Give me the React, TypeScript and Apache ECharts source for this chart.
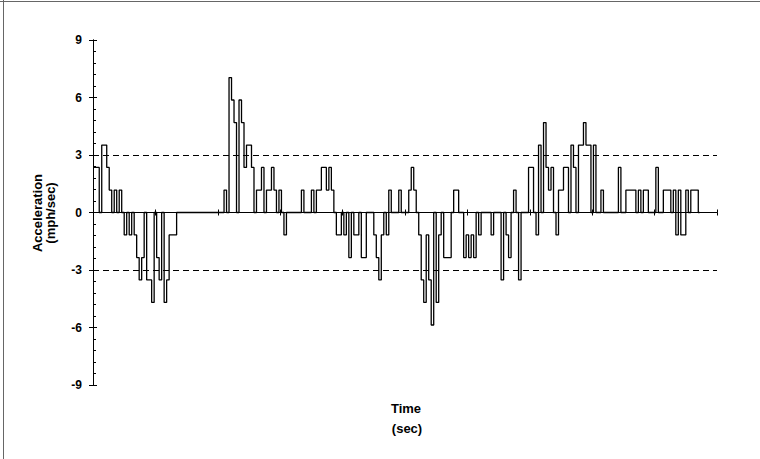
import React, { useEffect, useRef } from "react";
import * as echarts from "echarts";

// Sampling interval of the acceleration trace (seconds)
const DT = 0.4;

// Acceleration (mph/sec), consecutive samples, split into segments
const accelSeg1 = [2.35, 2.35, 2.35, 0, 3.52, 3.52, 2.35, 1.17, 0, 1.17, 0, 1.17, 0, -1.17, 0, -1.17, 0,
  -1.17, -2.35, -3.52, -2.35, 0, -3.52, -3.52, -4.69, 0, -2.35, -3.52, 0, -4.69, -3.52, -1.17, -1.17, -1.17];
const accelSeg2 = [0, 0, 0, 0, 0, 0, 0, 0, 0, 0, 0, 0, 0, 0, 0, 0, 0, 0, 0];
const accelSeg3 = [1.17, 0, 7.04, 5.87, 4.69, 0, 5.87, 4.69, 2.35, 3.52, 3.52, 2.35, 0, 1.17, 1.17, 2.35, 0,
  1.17, 1.17, 2.35, 1.17, 0, 1.17, 0, -1.17, 0, 0, 0, 0, 0, 0, 1.17, 0, 0, 0, 1.17, 0, 1.17, 1.17, 2.35,
  2.35, 1.17, 2.35, 1.17, 0];
const accelSeg4 = [-1.17, -1.17, 0, -1.17, 0, -2.35, 0, -1.17, -1.17, 0, -2.35, -2.35, 0, 0, 0, -1.17,
  -2.35, -3.52, -1.17, 0, -1.17, 1.17, 0, 0, 0, 1.17, 0, 0, 0, 1.17, 2.35, 1.17, 0, -1.17, -3.52, -4.69,
  -1.17, -3.52, -5.87, 0, -4.69, -1.17, 0, -2.35, -2.35, -2.35, 0, 1.17, 1.17, 0, 0];
const accelSeg5 = [-2.35, -1.17, -2.35, -1.17, -2.35, 0, -1.17, 0, 0, 0, 0, -1.17, 0, 0, 0, -3.52, 0,
  -1.17, -2.35, 0, 1.17, 0, -3.52, 0, 0, 0, 2.35, 2.35, 0, -1.17, 3.52, 0, 4.69, 2.35, 1.17, 2.35, 0,
  -1.17, 1.17, 1.17, 2.35, 2.35, 0, 3.52, 2.35, 0, 3.52, 3.52, 4.69, 3.52, 3.52, 0, 3.52, 0, 0];
const accelSeg6 = [1.17, 0, 0, 0, 0, 0, 0, 2.35, 0, 0, 1.17, 1.17, 1.17, 1.17, 0, 1.17, 0, 1.17, 1.17, 0,
  0, 0, 2.35, 0, 0, 1.17, 1.17, 1.17, 0, 1.17, -1.17, 1.17, -1.17, -1.17, 1.17, 0, 1.17, 1.17, 1.17, 0];

const accel = [...accelSeg1, ...accelSeg2, ...accelSeg3, ...accelSeg4, ...accelSeg5, ...accelSeg6];

// Reference limits (dashed lines)
const limits = [3, -3];

// Axis ranges
const timeRange = [0, 100];
const accelRange = [-9, 9];
const accelStep = 3;

const FONT = '"Liberation Sans", Arial, Helvetica, sans-serif';

export default function App() {
  const ref = useRef<HTMLDivElement>(null);

  useEffect(() => {
    document.body.style.margin = "0";
    const chart = echarts.init(ref.current!, null, { renderer: "svg" });
    const data = accel.map((v, i) => [i * DT, v]);

    const xBase = {
      type: "value",
      min: timeRange[0],
      max: timeRange[1],
      interval: 10,
      position: "bottom",
      axisLabel: { show: false },
      splitLine: { show: false },
      axisLine: { show: true, onZero: true, onZeroAxisIndex: 0, lineStyle: { color: "#000", width: 1 } },
    };
    const yBase = {
      type: "value",
      min: accelRange[0],
      max: accelRange[1],
      interval: accelStep,
      position: "left",
      splitLine: { show: false },
      axisLine: { show: true, onZero: false, lineStyle: { color: "#000", width: 1 } },
    };

    chart.setOption({
      animation: false,
      backgroundColor: "#fff",
      grid: { left: 93, right: 43, top: 40, bottom: 74, containLabel: false },
      xAxis: [
        { ...xBase, axisTick: { show: true, length: 3, inside: false, lineStyle: { color: "#000" } } },
        { ...xBase, axisTick: { show: true, length: 3, inside: true, lineStyle: { color: "#000" } } },
      ],
      yAxis: [
        {
          ...yBase,
          axisTick: { show: true, length: 4, inside: false, lineStyle: { color: "#000" } },
          axisLabel: {
            show: true,
            margin: 11,
            color: "#000",
            fontSize: 12,
            fontWeight: "bold",
            fontFamily: FONT,
          },
        },
        {
          ...yBase,
          axisLabel: { show: false },
          axisTick: { show: true, length: 4, inside: true, lineStyle: { color: "#000" } },
          minorTick: { show: true, splitNumber: 5, length: 3, lineStyle: { color: "#000" } },
        },
      ],
      series: [
        {
          type: "line",
          xAxisIndex: 0,
          yAxisIndex: 0,
          data,
          step: "middle",
          showSymbol: false,
          symbol: "none",
          lineStyle: { color: "#000", width: 1.3 },
          markLine: {
            silent: true,
            symbol: ["none", "none"],
            label: { show: false },
            lineStyle: { color: "#000", type: [6, 4], width: 1 },
            data: limits.map((v) => ({ yAxis: v })),
          },
        },
      ],
      graphic: [
        {
          type: "line",
          shape: { x1: 0, y1: 1.5, x2: 760, y2: 1.5 },
          style: { stroke: "#666", lineWidth: 1 },
        },
        {
          type: "line",
          shape: { x1: 3.5, y1: 0, x2: 3.5, y2: 459 },
          style: { stroke: "#666", lineWidth: 1 },
        },
        {
          type: "text",
          x: 37,
          y: 213,
          rotation: Math.PI / 2,
          style: {
            text: "Acceleration",
            textAlign: "center",
            textVerticalAlign: "middle",
            font: `bold 13px ${FONT}`,
            fill: "#000",
          },
        },
        {
          type: "text",
          x: 50,
          y: 213,
          rotation: Math.PI / 2,
          style: {
            text: "(mph/sec)",
            textAlign: "center",
            textVerticalAlign: "middle",
            font: `bold 13px ${FONT}`,
            fill: "#000",
          },
        },
        {
          type: "text",
          x: 406,
          y: 408,
          style: {
            text: "Time",
            textAlign: "center",
            textVerticalAlign: "middle",
            font: `bold 13px ${FONT}`,
            fill: "#000",
          },
        },
        {
          type: "text",
          x: 407,
          y: 428,
          style: {
            text: "(sec)",
            textAlign: "center",
            textVerticalAlign: "middle",
            font: `bold 13px ${FONT}`,
            fill: "#000",
          },
        },
      ],
    });

    return () => chart.dispose();
  }, []);

  return (
    <div
      ref={ref}
      style={{ position: "fixed", left: 0, top: 0, width: 760, height: 459 }}
    />
  );
}
